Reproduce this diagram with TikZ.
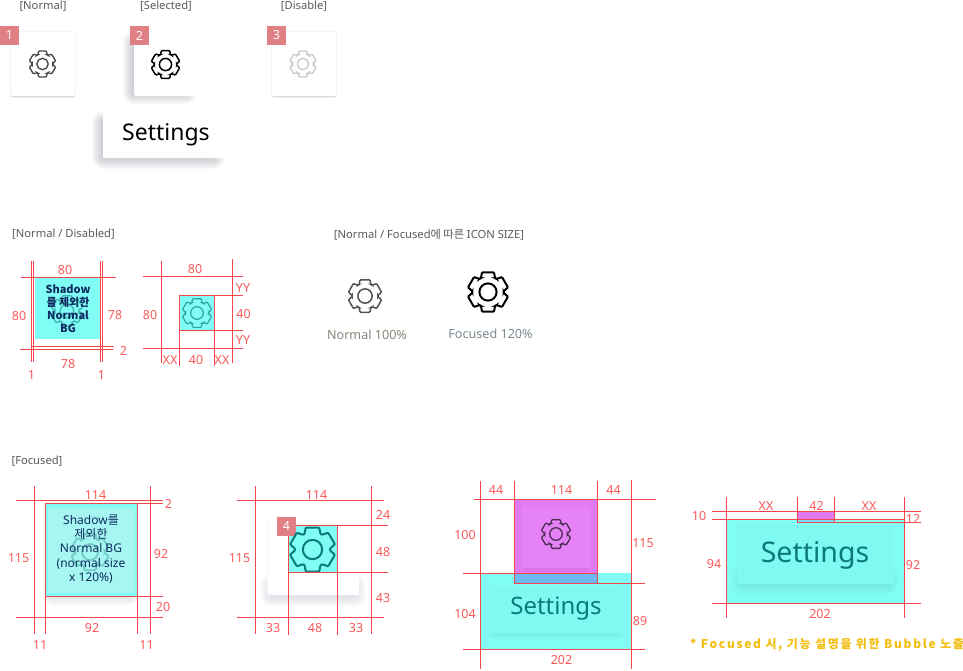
\documentclass[tikz,border=0pt]{standalone}
\usepackage{fontspec}
\setmainfont{Noto Sans}
\newfontfamily\cjk{Noto Sans CJK KR}
\newfontfamily\notecjk[LetterSpace=14]{Noto Sans CJK KR}
\usepackage{tikz}

\definecolor{dimred}{HTML}{F5444A}
\definecolor{dimtext}{HTML}{FA5A5A}
\definecolor{badgered}{HTML}{E08084}
\definecolor{guide}{HTML}{80FEF6}
\definecolor{guidepale}{HTML}{A6F7F2}
\definecolor{guideinner}{HTML}{7EFAF2}
\definecolor{violet}{HTML}{E27AF5}
\definecolor{violetpale}{HTML}{E482F6}
\definecolor{overlap}{HTML}{6CB8F4}
\definecolor{navy}{HTML}{0F2A60}
\definecolor{tealink}{HTML}{0B7A78}
\definecolor{noteyellow}{HTML}{F2BE10}
\definecolor{caption}{HTML}{5A5A5A}
\definecolor{shadowink}{HTML}{3A4550}
\definecolor{normalink}{HTML}{8A8578}
\definecolor{focusink}{HTML}{7A8A92}

\newcommand{\softshadow}[6]{\foreach \s in {1,...,#5}{\fill[shadowink,opacity=#6,rounded corners=\s pt] (#1-\s,#2-\s) rectangle (#3+\s,#4+\s);}}

\tikzset{
	dimline/.style={draw=dimred,line width=0.85pt},
	dim/.style={text=dimtext,inner sep=0pt,yshift=-0.8pt,font=\fontsize{12.5}{13}\selectfont},
	title/.style={text=caption,inner sep=0pt,yshift=-1pt,font=\fontsize{11.2}{12}\selectfont},
	badge/.style={fill=badgered,text=white,inner sep=0pt,minimum width=19pt,minimum height=19pt,font=\fontsize{12.5}{13}\selectfont},
	card/.style={fill=white,rounded corners=2pt,inner sep=0pt,minimum width=64pt,minimum height=64pt},
	note/.style={text=navy,inner sep=0pt,align=center},
	word/.style={inner sep=0pt,yshift=-3pt},
	pics/cog/.style={code={
		\draw[pic actions,rounded corners=0.9pt] (3:.76) \foreach \a in {30,90,...,330}{ -- (\a-27:.76) -- (\a-17:1) -- (\a+17:1) -- (\a+27:.76)} -- cycle;
		\draw[pic actions] (0,0) circle (.42);
	}}
}

\begin{document}
\begin{tikzpicture}[x=1pt,y=-1pt]
	\useasboundingbox (0,0) rectangle (963,670);
	\fill[white] (0,0) rectangle (963,670);

	\node[title] (normal) at (43,5.5) {[Normal]};
	\node[title] (selected) at (166,5.5) {[Selected]};
	\node[title] (disable) at (304,5.5) {[Disable]};
	\softshadow{12}{33}{74}{96}{2}{.05}
	\softshadow{273}{33}{335}{96}{2}{.05}
	\softshadow{134}{42}{186}{93}{11}{.024}
	\node[card] (cardone) at (43,64) {};
	\node[card,minimum width=63pt] (cardtwo) at (165.5,64) {};
	\node[card] (cardthree) at (304,64) {};
	\draw[black!25!brown!25!white,line width=0.7pt] (12.5,96) -- (73.5,96);
	\draw[black!25!brown!25!white,line width=0.7pt] (273.5,96) -- (334.5,96);
	\node[badge] (badgeone) at (9.5,35.5) {1};
	\node[badge] (badgetwo) at (139.5,35.5) {2};
	\node[badge] (badgethree) at (276.5,35.5) {3};
	\pic[scale=13.5,draw=black!72,line width=1.3pt] at (42.5,64) {cog};
	\pic[scale=14.5,draw=black,line width=1.5pt] at (165.5,64.5) {cog};
	\pic[scale=13.5,draw=black!22,line width=1.3pt] at (303,64) {cog};
	\softshadow{103}{122}{214}{158}{11}{.024}
	\fill[white,rounded corners=1pt] (103,109) rectangle (229,158);
	\fill[white] (162.5,110) -- (166.3,103) -- (170,110) -- cycle;
	\node[word,font=\fontsize{23}{24}\selectfont] (bubble) at (166,132) {Settings};

	\node[title] (normaldisabled) at (63.5,233) {[Normal / Disabled]};
	\node[title] (iconsize) at (429,233.5) {[Normal / Focused{\cjk 에 따른} ICON SIZE]};

	\fill[guide] (35,277.3) rectangle (100,338.7);
	\pic[scale=16,draw=tealink!55!guide,line width=1.3pt] at (67,311) {cog};
	\node[note,font=\fontsize{11}{13}\selectfont\cjk\bfseries] (shadowone) at (68,308.5) {Shadow\\를 제외한\\Normal\\BG};
	\draw[dimline] (31.3,261) -- (31.3,362);
	\draw[dimline] (33.7,261) -- (33.7,362);
	\draw[dimline] (100,261) -- (100,362);
	\draw[dimline] (102.3,261) -- (102.3,362);
	\draw[dimline] (21,277.3) -- (116,277.3);
	\draw[dimline] (32,346.3) -- (114,346.3);
	\draw[dimline] (20,349.3) -- (113,349.3);
	\node[dim] (atop) at (65,269.5) {80};
	\node[dim] (aleft) at (19,315) {80};
	\node[dim] (aright) at (115,314.5) {78};
	\node[dim] (agap) at (123.5,350.5) {2};
	\node[dim] (abottom) at (68,363) {78};
	\node[dim] (aone) at (31.5,374) {1};
	\node[dim] (atwo) at (101.5,374) {1};

	\fill[guide] (179.3,295.3) rectangle (214.3,330.3);
	\pic[scale=15,draw=tealink!70!guide,line width=1.2pt] at (197,313) {cog};
	\draw[dimline] (161.3,261) -- (161.3,363);
	\draw[dimline] (179.3,295.3) -- (179.3,365.7);
	\draw[dimline] (214.3,295.3) -- (214.3,365.7);
	\draw[dimline] (232.3,259.3) -- (232.3,363.3);
	\draw[dimline] (143.3,276.3) -- (242.7,276.3);
	\draw[dimline] (179.3,295.3) -- (242.7,295.3);
	\draw[dimline] (179.3,330.3) -- (242.7,330.3);
	\draw[dimline] (143.3,348) -- (242.7,348);
	\node[dim] (btop) at (195,268) {80};
	\node[dim] (bleft) at (150,314) {80};
	\node[dim] (byyone) at (243,287.5) {YY};
	\node[dim] (bmid) at (243.5,313.5) {40};
	\node[dim] (byytwo) at (243,339.5) {YY};
	\node[dim] (bxxone) at (170,359.5) {XX};
	\node[dim] (bbottom) at (196,359.5) {40};
	\node[dim] (bxxtwo) at (222,359.5) {XX};

	\pic[scale=17,draw=black!68,line width=1.5pt] at (365,296) {cog};
	\pic[scale=20.5,draw=black,line width=2pt] at (488,292) {cog};
	\node[inner sep=0pt,text=normalink,font=\fontsize{12.6}{13}\selectfont] (normalsize) at (367,334.5) {Normal 100\%};
	\node[inner sep=0pt,text=focusink,font=\fontsize{12.6}{13}\selectfont] (focusedsize) at (490.5,333.5) {Focused 120\%};

	\node[title] (focused) at (37,460.5) {[Focused]};

	\softshadow{52}{586}{130}{596}{9}{.014}
	\fill[guide] (45.3,503.3) rectangle (137.3,596);
	\fill[guidepale] (48,508) rectangle (135,593);
	\pic[scale=19,draw=tealink!35!guidepale,line width=1.8pt] at (90,552) {cog};
	\node[note,font=\fontsize{12}{14.4}\selectfont] (shadowtwo) at (91,549) {Shadow{\cjk 를}\\{\cjk 제외한}\\Normal BG\\(normal size\\x 120\%)};
	\draw[dimline] (34.3,486) -- (34.3,634.3);
	\draw[dimline] (45.3,503.3) -- (45.3,634.3);
	\draw[dimline] (137.3,503.3) -- (137.3,634.3);
	\draw[dimline] (150.3,486) -- (150.3,634.3);
	\draw[dimline] (16,500.3) -- (163.3,500.3);
	\draw[dimline] (45.3,503.3) -- (163.3,503.3);
	\draw[dimline] (45.3,596) -- (163.3,596);
	\draw[dimline] (16,617.3) -- (163.3,617.3);
	\node[dim] (ctop) at (95.5,494) {114};
	\node[dim] (cleft) at (18.5,557.5) {115};
	\node[dim] (cright) at (161,553) {92};
	\node[dim] (cgap) at (168.5,503.5) {2};
	\node[dim] (cshadow) at (163,606.5) {20};
	\node[dim] (cbottom) at (92,627.5) {92};
	\node[dim] (cone) at (40,644.5) {11};
	\node[dim] (ctwo) at (146.5,644.5) {11};

	\softshadow{272}{585}{354}{595}{12}{.012}
	\fill[white,rounded corners=2pt] (267.3,516.7) rectangle (359,595);
	\draw[black!4,rounded corners=2pt] (267.3,516.7) rectangle (359,595);
	\fill[guide] (288.3,525.3) rectangle (337.3,572.3);
	\node[badge] (badgefour) at (286.5,526.5) {4};
	\pic[scale=23,draw=tealink,line width=2pt] at (312.5,549.5) {cog};
	\draw[dimline] (255.3,486) -- (255.3,634.3);
	\draw[dimline] (288.3,536) -- (288.3,635);
	\draw[dimline] (337.3,525.3) -- (337.3,635);
	\draw[dimline] (371.3,486) -- (371.3,634.3);
	\draw[dimline] (237.3,500.3) -- (384,500.3);
	\draw[dimline] (296,525.3) -- (388,525.3);
	\draw[dimline] (288.3,572.3) -- (388,572.3);
	\draw[dimline] (237.3,617) -- (384,617);
	\node[dim] (dtop) at (316.5,494) {114};
	\node[dim] (dleft) at (239.5,557.5) {115};
	\node[dim] (dupper) at (383,514.5) {24};
	\node[dim] (dmid) at (383,551) {48};
	\node[dim] (dlower) at (383,597) {43};
	\node[dim] (dxone) at (273,627.5) {33};
	\node[dim] (dbottom) at (315,627.5) {48};
	\node[dim] (dxtwo) at (356,627.5) {33};

	\fill[guide] (480.3,573.3) rectangle (631.3,649);
	\softshadow{495}{625}{617}{633}{8}{.009}
	\fill[guideinner] (489,586) rectangle (623,633);
	\fill[violet] (514.3,499.3) rectangle (597.3,573.3);
	\softshadow{527}{560}{585}{568}{6}{.012}
	\fill[violetpale,rounded corners=1pt] (521.7,507) rectangle (590.7,568);
	\fill[overlap] (514.3,573.3) rectangle (597.3,583.3);
	\pic[scale=15,draw=violet!35!black,line width=1.3pt] at (556,534) {cog};
	\node[word,text=tealink,font=\fontsize{24}{25}\selectfont] (settingsc) at (556,606) {Settings};
	\draw[dimline] (480.3,481) -- (480.3,669);
	\draw[dimline] (514.3,481) -- (514.3,583.3);
	\draw[dimline] (597.3,481) -- (597.3,583.3);
	\draw[dimline] (631.3,480) -- (631.3,669);
	\draw[dimline] (474,499.3) -- (656.3,499.3);
	\draw[dimline] (463,573.3) -- (597.3,573.3);
	\draw[dimline] (514.3,583.3) -- (645,583.3);
	\draw[dimline] (463,649) -- (645,649);
	\node[dim] (exone) at (496,489.5) {44};
	\node[dim] (etop) at (561.5,489.5) {114};
	\node[dim] (extwo) at (613.5,489.5) {44};
	\node[dim] (eleft) at (465,534.5) {100};
	\node[dim] (eright) at (643,542.5) {115};
	\node[dim] (elower) at (465,613.5) {104};
	\node[dim] (erest) at (640,620) {89};
	\node[dim] (ebottom) at (561.5,659) {202};

	\fill[guide] (726.3,519.3) rectangle (904.3,603.3);
	\softshadow{742}{575}{888}{584}{11}{.009}
	\fill[guideinner] (736.7,525) rectangle (894.3,584.3);
	\fill[violet] (797.3,511.3) rectangle (834.3,519.3);
	\fill[overlap!45!guide] (797.3,519.3) rectangle (834.3,522.3);
	\node[word,yshift=-0.5pt,text=tealink,font=\fontsize{28.5}{29}\selectfont] (settingsd) at (815,551.5) {Settings};
	\draw[dimline] (726.3,497.3) -- (726.3,617.7);
	\draw[dimline] (797.3,497.3) -- (797.3,522.3);
	\draw[dimline] (834.3,497.3) -- (834.3,522.3);
	\draw[dimline] (904.3,497.3) -- (904.3,617.7);
	\draw[dimline] (712,511.3) -- (920.7,511.3);
	\draw[dimline] (712,519.3) -- (904.3,519.3);
	\draw[dimline] (797.3,522.3) -- (920.7,522.3);
	\draw[dimline] (712,603.3) -- (920.7,603.3);
	\node[dim] (fxone) at (766,505.5) {XX};
	\node[dim] (ftop) at (816.5,505.5) {42};
	\node[dim] (fxtwo) at (869,505.5) {XX};
	\node[dim] (fleft) at (699,515.5) {10};
	\node[dim] (fright) at (913,518) {12};
	\node[dim] (flower) at (714,563.5) {94};
	\node[dim] (frest) at (913,564) {92};
	\node[dim] (fbottom) at (820,613.5) {202};
	\node[inner sep=0pt,text=noteyellow,font=\fontsize{12}{13}\selectfont\notecjk\bfseries] (bubblenote) at (827,645) {* Focused 시, 기능 설명을 위한 Bubble 노출};
\end{tikzpicture}
\end{document}
